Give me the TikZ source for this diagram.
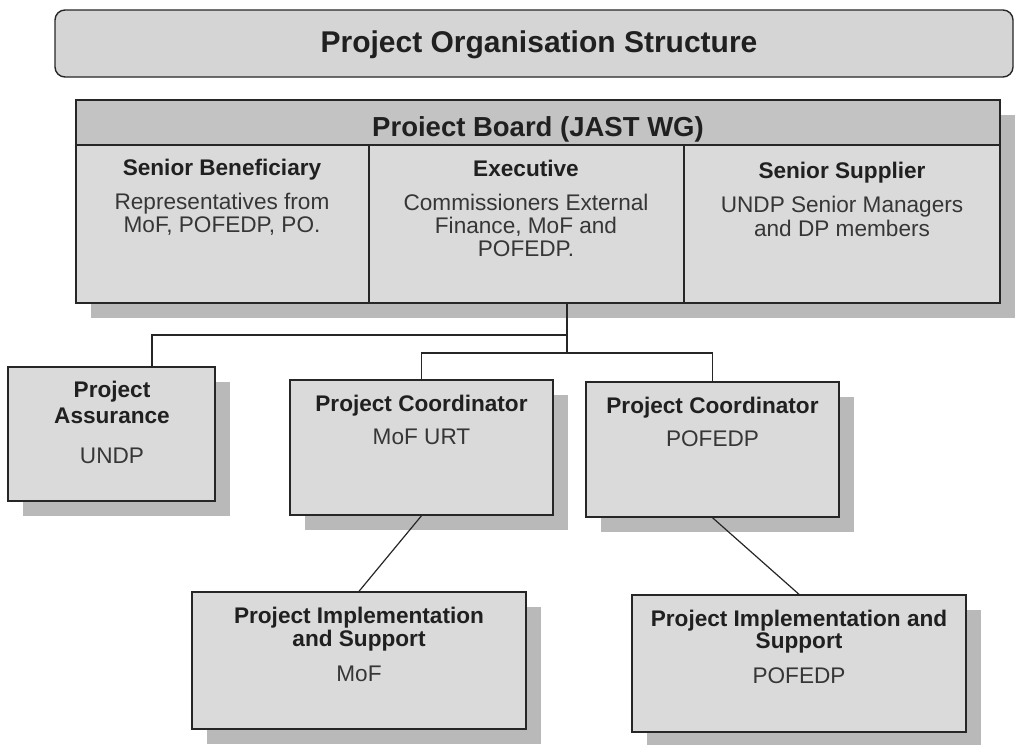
\documentclass[tikz,border=0pt]{standalone}
\usepackage{fontspec}
\setmainfont{Liberation Sans}
\usetikzlibrary{shadows}

\definecolor{boxfill}{HTML}{DADADA}
\definecolor{headfill}{HTML}{C3C3C3}
\definecolor{titlefill}{HTML}{D5D5D5}
\definecolor{shade}{HTML}{B9B9B9}
\definecolor{ink}{HTML}{262626}
\definecolor{textink}{HTML}{202020}

\tikzset{
  orgbox/.style={draw=ink, line width=1.4pt, fill=boxfill, inner sep=0pt,
    general shadow={fill=shade, shadow xshift=15pt, shadow yshift=-15pt}},
  titlebox/.style={draw=ink, line width=1.4pt, fill=titlefill, inner sep=0pt,
    rounded corners=10pt, minimum width=958pt, minimum height=67pt},
  headband/.style={draw=ink, line width=1.4pt, fill=headfill, inner sep=0pt,
    minimum width=924pt, minimum height=45pt},
  divider/.style={draw=ink, line width=1.2pt},
  link/.style={draw=ink, line width=1.2pt},
  titletext/.style={anchor=base, inner sep=0pt, text=textink,
    font=\fontsize{30}{34}\selectfont\bfseries},
  boardtext/.style={anchor=base, inner sep=0pt, text=textink,
    font=\fontsize{27.5}{31}\selectfont\bfseries},
  headingtext/.style={anchor=base, inner sep=0pt, text=textink,
    font=\fontsize{22.6}{25}\selectfont\bfseries},
  bodytext/.style={anchor=base, inner sep=0pt, text=textink!90,
    font=\fontsize{22.6}{25}\selectfont},
}

\begin{document}
\begin{tikzpicture}[x=1pt,y=-1pt]
\useasboundingbox (0,0) rectangle (1016,744);

% title banner
\node[titlebox] (title) at (534,43.5) {};
\node[titletext] (titlelbl) at (539,52) {Project Organisation Structure};

% project board with its three columns
\node[orgbox, minimum width=924pt, minimum height=203pt] (board) at (538,201.5) {};
\node[headband, anchor=north] (head) at (board.north) {};
\node[boardtext] (headlbl) at (538,136) {Proiect Board (JAST WG)};
\coordinate (d1) at (369,0);
\coordinate (d2) at (684,0);
\draw[divider] (head.south -| d1) -- (board.south -| d1);
\draw[divider] (head.south -| d2) -- (board.south -| d2);

\node[headingtext] (sbh)  at (222,175) {Senior Beneficiary};
\node[bodytext]    (sbb1) at (222,209) {Representatives from};
\node[bodytext]    (sbb2) at (222,232) {MoF, POFEDP, PO.};

\node[headingtext] (exh)  at (526,176) {Executive};
\node[bodytext]    (exb1) at (526,210) {Commissioners External};
\node[bodytext]    (exb2) at (526,233) {Finance, MoF and};
\node[bodytext]    (exb3) at (526,256) {POFEDP.};

\node[headingtext] (ssh)  at (842,178) {Senior Supplier};
\node[bodytext]    (ssb1) at (842,212) {UNDP Senior Managers};
\node[bodytext]    (ssb2) at (842,236) {and DP members};

% lower boxes
\node[orgbox, minimum width=207pt, minimum height=134pt] (assur) at (111.5,434) {};
\node[headingtext] (assh1) at (112,397) {Project};
\node[headingtext] (assh2) at (112,423) {Assurance};
\node[bodytext]    (assb)  at (112,463) {UNDP};

\node[orgbox, minimum width=263pt, minimum height=135pt] (coorda) at (421.5,447.5) {};
\node[headingtext] (cah) at (421.5,411) {Project Coordinator};
\node[bodytext]    (cab) at (421.5,444) {MoF URT};

\node[orgbox, minimum width=253pt, minimum height=135pt] (coordb) at (712.5,449.5) {};
\node[headingtext] (cbh) at (712.5,413) {Project Coordinator};
\node[bodytext]    (cbb) at (712.5,446) {POFEDP};

\node[orgbox, minimum width=334pt, minimum height=137pt] (impla) at (359,660.5) {};
\node[headingtext] (iah1) at (359,623) {Project Implementation};
\node[headingtext] (iah2) at (359,646) {and Support};
\node[bodytext]    (iab)  at (359,681) {MoF};

\node[orgbox, minimum width=334pt, minimum height=137pt] (implb) at (799,663.5) {};
\node[headingtext] (ibh1) at (799,626) {Project Implementation and};
\node[headingtext] (ibh2) at (799,648) {Support};
\node[bodytext]    (ibb)  at (799,683) {POFEDP};

% connectors
\coordinate (trunk) at (567,0);
\coordinate (j1) at (567,335);
\coordinate (j2) at (567,353);
\coordinate (a1) at (152,335);
\draw[link] (board.south -| trunk) -- (j2);
\draw[link] (j1) -- (a1) -- (a1 |- assur.north);
\draw[link] (coorda.north) -- (j2 -| coorda.north) -- (j2 -| coordb.north) -- (coordb.north);
\draw[link] (coorda.south) -- (impla.north);
\draw[link] (coordb.south) -- (implb.north);
\end{tikzpicture}
\end{document}
